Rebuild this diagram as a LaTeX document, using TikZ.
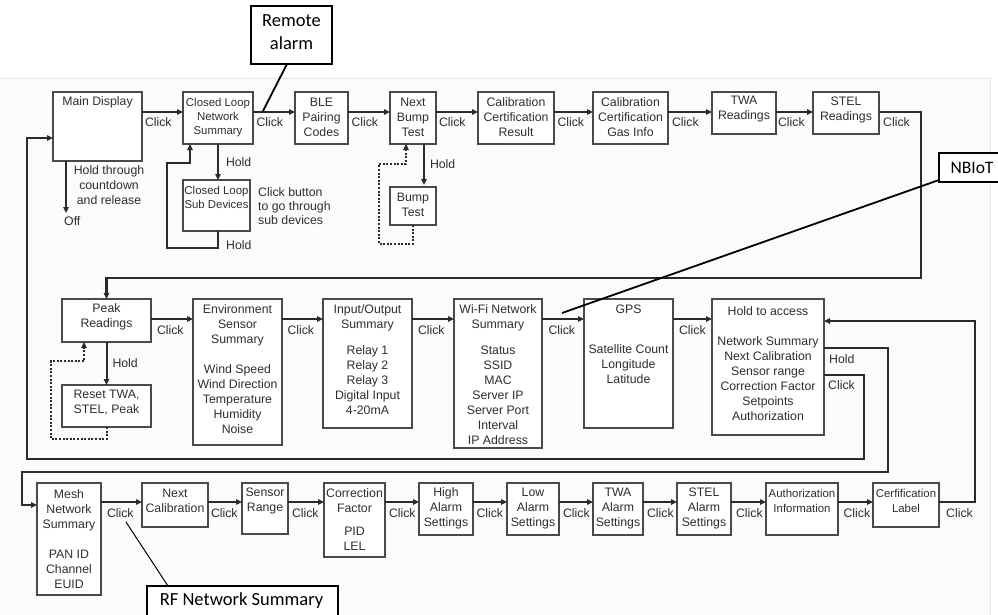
\documentclass[tikz,border=0pt]{standalone}
\usepackage{fontspec}
\setmainfont{Liberation Sans}
\newfontfamily\annfont{Carlito}
\usetikzlibrary{arrows.meta,calc}
\definecolor{ln}{HTML}{2A2A2A}
\definecolor{bx}{HTML}{4A4A4A}
\definecolor{tx}{HTML}{2E2E2E}
\tikzset{
 box/.style={draw=bx, line width=1.3pt, fill=white, inner sep=0pt, outer sep=0pt},
 txt/.style={text=tx, inner sep=0pt, align=center, font=\fontsize{12.3}{15}\selectfont},
 sm/.style={font=\fontsize{11.4}{14.3}\selectfont},
 arr/.style={draw=ln, line width=2pt, -{Triangle[length=6pt,width=5.5pt]}},
 ret/.style={draw=ln, line width=2.4pt, -{Triangle[length=6pt,width=5.5pt]}},
 dots/.style={draw=ln, line width=2pt, dash pattern=on 2pt off 1.6pt, -{Triangle[length=6pt,width=5.5pt]}},
 clk/.style={text=tx, inner sep=0pt, anchor=west, font=\fontsize{12.3}{15}\selectfont},
 ann/.style={draw=black, line width=1.3pt, fill=white, inner sep=0pt, outer sep=0pt},
 anntxt/.style={inner sep=0pt, align=center, font=\annfont\fontsize{18.5}{23}\selectfont},
 pointer/.style={draw=black, line width=1.8pt},
}
\newcommand{\bx}[8][]{%
 \node[box, minimum width={(#5-#3)*1pt}, minimum height={(#6-#4)*1pt}, anchor=north west] (#2) at (#3,#4) {};
 \node[txt,#1] (#2-t) at ({(#3+#5)/2},#7) {#8};
}
\begin{document}
\begin{tikzpicture}[x=1pt,y=-1pt]
\useasboundingbox (0,0) rectangle (998,614);
\clip (0,0) rectangle (998,614);
\fill[white] (0,0) rectangle (998,614);
\draw[black!9, fill=black!1.5] (-2,78) rectangle (990,620);

\coordinate (r1) at (0,112);
\coordinate (r2) at (0,319);
\coordinate (r3) at (0,502);

% ---- row 1
\bx{main}{53}{92}{142}{161}{102}{Main Display}
\bx[sm]{cln}{183}{92}{253}{144}{117.5}{Closed Loop\\Network\\Summary}
\bx{ble}{295}{92}{348}{144}{117.5}{BLE\\Pairing\\Codes}
\bx{nbt}{390}{92}{436}{144}{117}{Next\\Bump\\Test}
\bx{ccr}{478}{92}{554}{144}{117}{Calibration\\Certification\\Result}
\bx{ccg}{593}{92}{668}{144}{117}{Calibration\\Certification\\Gas Info}
\bx{twa}{712}{92}{776}{134}{109.5}{TWA\\Readings}
\bx{stel}{813}{92}{879}{134}{109.5}{STEL\\Readings}
\bx[sm]{clsd}{183}{180}{250}{231}{197.5}{Closed Loop\\Sub Devices}
\bx{bump}{390}{187}{436}{225}{205}{Bump\\Test}

\node[txt] (holdoff) at (109,185.5) {Hold through\\countdown\\and release};
\node[clk] (off) at (64,221) {Off};
\node[txt, align=left, anchor=west, font=\fontsize{12.3}{14}\selectfont] (cbtn) at (258,206) {Click button\\to go through\\sub devices};

% ---- row 2
\bx{peak}{62}{299}{151}{342}{317}{Peak\\Readings}
\bx{reset}{62}{385}{151}{427}{403}{Reset TWA,\\STEL, Peak}
\bx{env}{193}{299}{282}{445}{369.3}{Environment\\Sensor\\Summary\\[15pt]Wind Speed\\Wind Direction\\Temperature\\Humidity\\Noise}
\bx{io}{323}{299}{412}{428}{359.3}{Input/Output\\Summary\\[11pt]Relay 1\\Relay 2\\Relay 3\\Digital Input\\4-20mA}
\bx{wifi}{454}{299}{542}{448}{374.3}{Wi-Fi Network\\Summary\\[11pt]Status\\SSID\\MAC\\Server IP\\Server Port\\Interval\\IP Address}
\bx{gps}{584}{299}{673}{428}{344.3}{GPS\\[25pt]Satellite Count\\Longitude\\Latitude}
\bx{hta}{712}{299}{824}{435}{363.8}{Hold to access\\[15pt]Network Summary\\Next Calibration\\Sensor range\\Correction Factor\\Setpoints\\Authorization}

% ---- row 3
\bx{mesh}{37}{483}{101}{595}{538.7}{Mesh\\Network\\Summary\\[15pt]PAN ID\\Channel\\EUID}
\bx{ncal}{142}{483}{208}{527}{500.8}{Next\\Calibration}
\bx{srng}{242}{483}{288}{534}{500.8}{Sensor\\Range}
\bx{corr}{324}{483}{385}{557}{519.5}{Correction\\Factor\\[7.4pt]PID\\LEL}
\bx{high}{419}{483}{473}{535}{508.3}{High\\Alarm\\Settings}
\bx{low}{507}{483}{559}{535}{508.3}{Low\\Alarm\\Settings}
\bx{twaa}{593}{483}{643}{535}{508.3}{TWA\\Alarm\\Settings}
\bx{stela}{677}{483}{731}{535}{508.3}{STEL\\Alarm\\Settings}
\bx[sm]{auth}{766}{483}{838}{535}{500.8}{Authorization\\Information}
\bx[sm]{cert}{873}{483}{939}{527}{500.8}{Cerfification\\Label}

% ---- row 1 connectors
\draw[arr] (main.east |- r1) node[clk,xshift=2pt,yshift=-10pt]{Click} -- (cln.west |- r1);
\draw[arr] (cln.east |- r1) node[clk,xshift=2.5pt,yshift=-10pt]{Click} -- (ble.west |- r1);
\draw[arr] (ble.east |- r1) node[clk,xshift=2.5pt,yshift=-10pt]{Click} -- (nbt.west |- r1);
\draw[arr] (nbt.east |- r1) node[clk,xshift=2pt,yshift=-10pt]{Click} -- (ccr.west |- r1);
\draw[arr] (ccr.east |- r1) node[clk,xshift=2.5pt,yshift=-10pt]{Click} -- (ccg.west |- r1);
\draw[arr] (ccg.east |- r1) node[clk,xshift=3pt,yshift=-10pt]{Click} -- (twa.west |- r1);
\draw[arr] (twa.east |- r1) node[clk,xshift=1pt,yshift=-10pt]{Click} -- (stel.west |- r1);
\draw[ret] (stel.east |- r1) node[clk,xshift=3pt,yshift=-10pt]{Click} -- (921,112) -- (921,278) -| (peak.north);

\draw[arr] (cln.south) -- (cln.south |- clsd.north) node[clk,midway,xshift=7pt]{Hold};
\draw[ret] (cln.south |- clsd.south) -- (218,248) node[clk,pos=0.8,xshift=7pt]{Hold} -- (167,248) -- (167,163) -| ([xshift=-28pt]cln.south);
\draw[arr] ([xshift=-31.5pt]main.south) -- ++(0,52);

\draw[arr] ([xshift=11pt]nbt.south) -- ++(0,41) node[clk,midway,xshift=5pt]{Hold};
\draw[dots] (bump.south) -- (413,244) -- (379,244) -- (379,164) -| ([xshift=-7pt]nbt.south);

% ---- row 2 connectors
\draw[arr] (peak.east |- r2) node[clk,xshift=5pt,yshift=-11pt]{Click} -- (env.west |- r2);
\draw[arr] (env.east |- r2) node[clk,xshift=4.5pt,yshift=-11pt]{Click} -- (io.west |- r2);
\draw[arr] (io.east |- r2) node[clk,xshift=5pt,yshift=-11pt]{Click} -- (wifi.west |- r2);
\draw[arr] (wifi.east |- r2) node[clk,xshift=5.5pt,yshift=-11pt]{Click} -- (gps.west |- r2);
\draw[arr] (gps.east |- r2) node[clk,xshift=5pt,yshift=-11pt]{Click} -- (hta.west |- r2);

\draw[arr] (peak.south) -- (reset.north) node[clk,midway,xshift=5pt]{Hold};
\draw[dots] (reset.south) -- (106.5,439) -- (51,439) -- (51,361) -| ([xshift=-22.5pt]peak.south);

\draw[ret] ([yshift=-8pt]hta.east) node[clk,xshift=3pt,yshift=-10pt]{Click} -- (864,375) -- (864,459) -- (27,459) |- ([yshift=-11.5pt]main.west);
\draw[ret] ([yshift=19pt]hta.east) node[clk,xshift=4pt,yshift=-11pt]{Hold} -- (888,348) -- (888,472) -- (22,472) |- ([yshift=34pt]mesh.west);

% ---- row 3 connectors
\draw[arr] (mesh.east |- r3) node[clk,xshift=5pt,yshift=-11pt]{Click} -- (ncal.west |- r3);
\draw[arr] (ncal.east |- r3) node[clk,xshift=2pt,yshift=-11pt]{Click} -- (srng.west |- r3);
\draw[arr] (srng.east |- r3) node[clk,xshift=3pt,yshift=-11pt]{Click} -- (corr.west |- r3);
\draw[arr] (corr.east |- r3) node[clk,xshift=3pt,yshift=-11pt]{Click} -- (high.west |- r3);
\draw[arr] (high.east |- r3) node[clk,xshift=2.5pt,yshift=-11pt]{Click} -- (low.west |- r3);
\draw[arr] (low.east |- r3) node[clk,xshift=3pt,yshift=-11pt]{Click} -- (twaa.west |- r3);
\draw[arr] (twaa.east |- r3) node[clk,xshift=3pt,yshift=-11pt]{Click} -- (stela.west |- r3);
\draw[arr] (stela.east |- r3) node[clk,xshift=4pt,yshift=-11pt]{Click} -- (auth.west |- r3);
\draw[arr] (auth.east |- r3) node[clk,xshift=4.5pt,yshift=-11pt]{Click} -- (cert.west |- r3);
\draw[ret] (cert.east |- r3) node[clk,xshift=6pt,yshift=-11pt]{Click} -- (975,502) -- (975,321) -- ([yshift=46pt]hta.east);

% ---- annotations
\node[ann, minimum width=81pt, minimum height=58pt, anchor=north west] (remote) at (251,6) {};
\node[anntxt] (remote-t) at (291.5,32) {Remote\\alarm};
\coordinate (ra) at (263,111);
\draw[pointer] ([xshift=-4.5pt]remote.south) -- (ra);

\node[ann, minimum width=70pt, minimum height=29pt, anchor=north west] (nbiot) at (939,153) {};
\node[anntxt, font=\annfont\fontsize{17.5}{20}\selectfont] (nbiot-t) at (972,167.5) {NBIoT};
\coordinate (nb) at (562,313);
\draw[pointer] ([yshift=2pt]nbiot.south west) -- (nb);

\node[ann, minimum width=191pt, minimum height=40pt, anchor=north west] (rf) at (147,586) {};
\node[anntxt] (rf-t) at (241.5,601) {RF Network Summary};
\coordinate (rfp) at (126,522);
\draw[draw=black, line width=1pt] ([xshift=21pt]rf.north west) -- (rfp);
\end{tikzpicture}
\end{document}
